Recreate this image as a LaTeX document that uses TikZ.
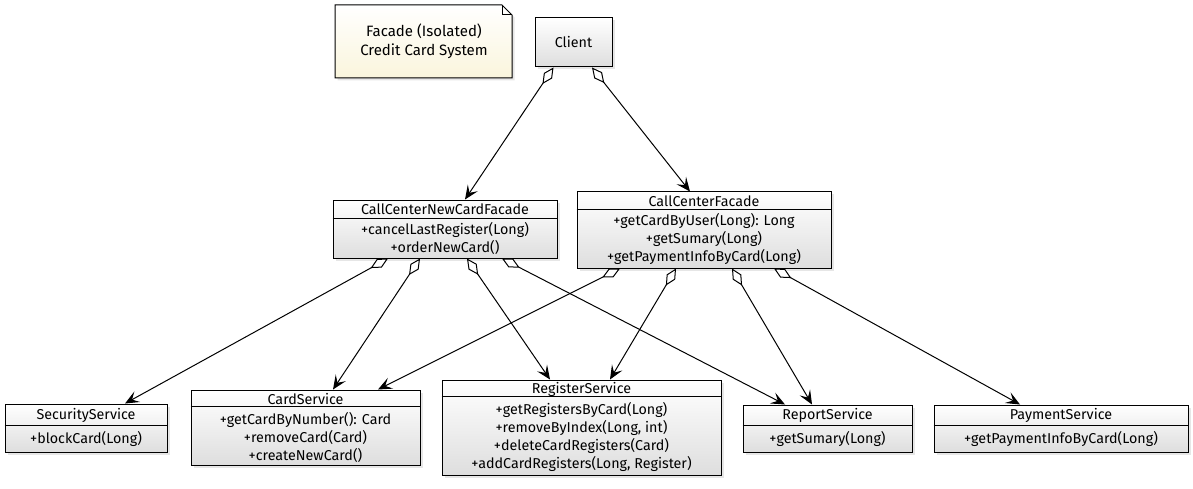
\documentclass[tikz,border=0pt]{standalone}
\usepackage{fontspec}
\setmainfont{Fira Sans}
\usetikzlibrary{arrows.meta,calc,shadows}
\begin{document}
\begin{tikzpicture}[x=1pt,y=-1pt,
  cls/.style={draw=black, line width=1pt, top color=white, bottom color=black!13,
    drop shadow={opacity=0.2, shadow xshift=2.5pt, shadow yshift=-2.5pt}, inner sep=0pt},
  txt/.style={font=\fontsize{14.3}{18}\selectfont, inner sep=0pt, align=center},
  ntxt/.style={font=\fontsize{15}{19}\selectfont, inner sep=0pt, align=center},
  hline/.style={draw=black, line width=1pt},
  agg/.style={draw=black, line width=1pt,
    {Diamond[open,fill=white,scale=2.2]}-{Stealth[length=14pt,width=12pt,inset=6pt]}}]
\useasboundingbox (0,0) rectangle (1193,489);
% note
\path[draw=black, line width=1pt, top color=white, bottom color={rgb,255:red,250;green,245;blue,220},
  drop shadow={opacity=0.2, shadow xshift=2.5pt, shadow yshift=-2.5pt}]
  (335,5) -- (502,5) -- (512,15) -- (512,78) -- (335,78) -- cycle;
\draw[line width=1pt] (502,5) -- (502,15) -- (512,15);
\node[ntxt] (notet) at (424,41) {Facade (Isolated)\\Credit Card System};
% client
\node[cls, minimum width=77pt, minimum height=49pt] (client) at (573.5,42.5) {};
\node[txt] (clientt) at (client) {Client};
% CallCenterNewCardFacade
\node[cls, minimum width=224pt, minimum height=58pt] (ccncf) at (445,229) {};
\draw[hline] ($(ccncf.north west)+(0,19)$) -- ($(ccncf.north east)+(0,19)$);
\node[txt] (ccncft) at (445,209.5) {CallCenterNewCardFacade};
\node[txt] (ccncfm) at (445,238.5) {+cancelLastRegister(Long)\\+orderNewCard()};
% CallCenterFacade
\node[cls, minimum width=254pt, minimum height=76pt] (ccf) at (704,230) {};
\draw[hline] ($(ccf.north west)+(0,18)$) -- ($(ccf.north east)+(0,18)$);
\node[txt] (ccft) at (704,201) {CallCenterFacade};
\node[txt] (ccfm) at (704,238.5) {+getCardByUser(Long): Long\\+getSumary(Long)\\+getPaymentInfoByCard(Long)};
% SecurityService
\node[cls, minimum width=162pt, minimum height=48pt] (sec) at (86,428) {};
\draw[hline] ($(sec.north west)+(0,22)$) -- ($(sec.north east)+(0,22)$);
\node[txt] (sect) at (86,415) {SecurityService};
\node[txt] (secm) at (86,439) {+blockCard(Long)};
% CardService
\node[cls, minimum width=229pt, minimum height=75pt] (card) at (305.5,427.5) {};
\draw[hline] ($(card.north west)+(0,17)$) -- ($(card.north east)+(0,17)$);
\node[txt] (cardt) at (305.5,399) {CardService};
\node[txt] (cardm) at (305.5,437) {+getCardByNumber(): Card\\+removeCard(Card)\\+createNewCard()};
% RegisterService
\node[cls, minimum width=279pt, minimum height=95pt] (reg) at (581.5,427.5) {};
\draw[hline] ($(reg.north west)+(0,17)$) -- ($(reg.north east)+(0,17)$);
\node[txt] (regt) at (581.5,389) {RegisterService};
\node[txt] (regm) at (581.5,437) {+getRegistersByCard(Long)\\+removeByIndex(Long, int)\\+deleteCardRegisters(Card)\\+addCardRegisters(Long, Register)};
% ReportService
\node[cls, minimum width=169pt, minimum height=47pt] (rep) at (827.5,428.5) {};
\draw[hline] ($(rep.north west)+(0,21)$) -- ($(rep.north east)+(0,21)$);
\node[txt] (rept) at (827.5,415) {ReportService};
\node[txt] (repm) at (827.5,439) {+getSumary(Long)};
% PaymentService
\node[cls, minimum width=254pt, minimum height=47pt] (pay) at (1061,428.5) {};
\draw[hline] ($(pay.north west)+(0,21)$) -- ($(pay.north east)+(0,21)$);
\node[txt] (payt) at (1061,415) {PaymentService};
\node[txt] (paym) at (1061,439) {+getPaymentInfoByCard(Long)};
% connectors
\draw[agg] ($(client.south)+(-20,0)$) -- ($(ccncf.north)+(20,0)$);
\draw[agg] ($(client.south)+(18.5,0)$) -- ($(ccf.north)+(-14,0)$);
\draw[agg] ($(ccncf.south)+(-57,0)$) -- ($(sec.north)+(39,0)$);
\draw[agg] ($(ccncf.south)+(-25,0)$) -- ($(card.north)+(27.5,0)$);
\draw[agg] ($(ccncf.south)+(22,0)$) -- ($(reg.north)+(-31.5,0)$);
\draw[agg] ($(ccncf.south)+(57,0)$) -- ($(rep.north)+(-42.5,0)$);
\draw[agg] ($(ccf.south)+(-84,0)$) -- ($(card.north)+(72.5,0)$);
\draw[agg] ($(ccf.south)+(-28,0)$) -- ($(reg.north)+(28.5,0)$);
\draw[agg] ($(ccf.south)+(28,0)$) -- ($(rep.north)+(-15.5,0)$);
\draw[agg] ($(ccf.south)+(70,0)$) -- ($(pay.north)+(-41,0)$);
\end{tikzpicture}
\end{document}
